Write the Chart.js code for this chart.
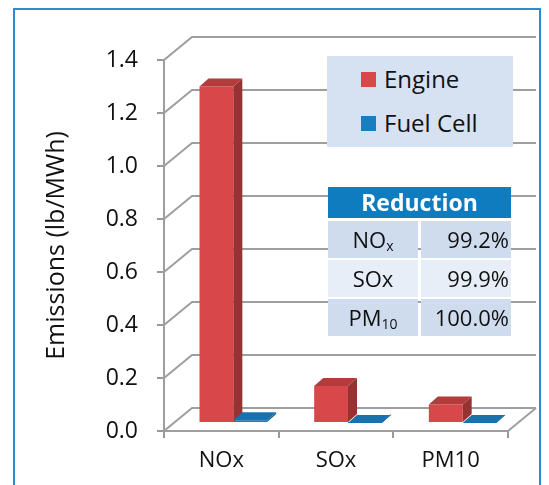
<!DOCTYPE html>
<html>
<head>
<meta charset="utf-8">
<script src="https://cdn.jsdelivr.net/npm/chart.js@4"></script>
<style>
  body { margin: 0; background: #fff; }
  .wrap { position: relative; width: 549px; height: 485px; font-family: "Open Sans", sans-serif; color: #111; }
  .legend { position: absolute; left: 327px; top: 56px; width: 186px; height: 91px; background: #d6e2f1; }
  .legend .item { position: absolute; left: 34px; font-size: 24px; line-height: 28px; }
  .legend .box { display: inline-block; width: 15px; height: 15px; margin-right: 8px; vertical-align: 1px; }
  .table { position: absolute; left: 328px; top: 187px; width: 183px; font-size: 22px; }
  .table .head { background: #0f7cc0; color: #fff; font-weight: bold; text-align: center; height: 31px; line-height: 31px; margin-bottom: 3px; font-size: 23px; }
  .table .row { display: flex; height: 37px; line-height: 37px; margin-bottom: 2px; }
  .table .c1 { width: 90px; text-align: center; margin-right: 3px; }
  .table .c2 { flex: 1; text-align: right; padding-right: 2px; }
  .table sub { font-size: 14px; vertical-align: -3px; line-height: 0; }
</style>
</head>
<body>
<div class="wrap">
  <canvas id="myChart" width="549" height="485"></canvas>
  <div class="legend" id="legend"></div>
  <div class="table" id="table"></div>
</div>
<script>
const categories = ['NOx', 'SOx', 'PM10'];
const engine = [1.27, 0.14, 0.07];
const fuelCell = [0.01, 0.0001, 0];
const seriesNames = ['Engine', 'Fuel Cell'];
const seriesColors = ['#d8474a', '#1a7dc0'];
const yMin = 0, yMax = 1.4, yStep = 0.2;

const reductionTitle = 'Reduction';
const reductionNames = ['NO<sub>x</sub>', 'SOx', 'PM<sub>10</sub>'];
const reductionValues = ['99.2%', '99.9%', '100.0%'];
const rowColors = ['#cfdcee', '#e8eef7', '#cfdcee'];

// 3d look: back wall offset, bar depth, bar shift into the box
const wallDx = 28, wallDy = -23;
const barDx = 9, barDy = -8;
const shiftX = 12, shiftY = -8;

const sideColors = ['#963232', '#145d90'];
const topColors = ['#b33b3c', '#1872b0'];

const frame3d = {
  id: 'frame3d',
  beforeDraw(chart) {
    const c = chart.ctx;
    c.save();
    c.strokeStyle = '#2a8cd2';
    c.lineWidth = 2;
    c.strokeRect(14, 9, 526, 520);
    c.restore();
  },
  beforeDatasetsDraw(chart) {
    const c = chart.ctx;
    const a = chart.chartArea;
    const ys = chart.scales.y;
    c.save();
    c.strokeStyle = '#9e9e9e';
    c.lineWidth = 2;
    ys.ticks.forEach(t => {
      const y = ys.getPixelForValue(t.value);
      c.beginPath();
      c.moveTo(a.left, y);
      c.lineTo(a.left + wallDx, y + wallDy);
      c.lineTo(a.right + wallDx, y + wallDy);
      c.stroke();
    });
    // floor
    const y0 = ys.getPixelForValue(0);
    c.beginPath();
    c.moveTo(a.right, y0);
    c.lineTo(a.right + wallDx, y0 + wallDy);
    c.stroke();
    c.restore();
    c.save();
    c.translate(shiftX, shiftY);
  },
  afterDatasetsDraw(chart) {
    const c = chart.ctx;
    chart.data.datasets.forEach((ds, i) => {
      chart.getDatasetMeta(i).data.forEach(bar => {
        const p = bar.getProps(['x', 'y', 'base', 'width'], true);
        const l = p.x - p.width / 2, r = p.x + p.width / 2;
        c.fillStyle = sideColors[i];
        c.beginPath();
        c.moveTo(r, p.y);
        c.lineTo(r + barDx, p.y + barDy);
        c.lineTo(r + barDx, p.base + barDy);
        c.lineTo(r, p.base);
        c.closePath();
        c.fill();
        c.fillStyle = topColors[i];
        c.beginPath();
        c.moveTo(l, p.y);
        c.lineTo(r, p.y);
        c.lineTo(r + barDx, p.y + barDy);
        c.lineTo(l + barDx, p.y + barDy);
        c.closePath();
        c.fill();
      });
    });
    c.restore();
  }
};

const chart = new Chart(document.getElementById('myChart'), {
  type: 'bar',
  data: {
    labels: categories,
    datasets: [
      { label: seriesNames[0], data: engine, backgroundColor: seriesColors[0], borderWidth: 0, clip: false },
      { label: seriesNames[1], data: fuelCell, backgroundColor: seriesColors[1], borderWidth: 0, clip: false }
    ]
  },
  options: {
    responsive: false,
    animation: false,
    categoryPercentage: 0.59,
    barPercentage: 1,
    layout: { padding: { left: 0, right: 41, top: 60, bottom: 0 } },
    plugins: { legend: { display: false }, tooltip: { enabled: false } },
    scales: {
      x: {
        afterFit: s => { s.height = 54; },
        grid: { drawOnChartArea: false, tickLength: 7, color: '#999', lineWidth: 2 },
        border: { color: '#9e9e9e', width: 2 },
        ticks: { padding: 10, color: '#111', font: { family: 'Open Sans', size: 22 } }
      },
      y: {
        min: yMin,
        max: yMax,
        afterFit: s => { s.width = 164; },
        grid: { drawOnChartArea: false, tickLength: 7, color: '#999', lineWidth: 2 },
        border: { color: '#9e9e9e', width: 2 },
        ticks: {
          stepSize: yStep,
          padding: 19,
          color: '#111',
          font: { family: 'Open Sans', size: 23 },
          callback: v => v.toFixed(1)
        },
        title: {
          display: true,
          text: 'Emissions (lb/MWh)',
          color: '#111',
          font: { family: 'Open Sans', size: 25 },
          padding: { top: 42 }
        }
      }
    }
  },
  plugins: [frame3d]
});

// legend from the datasets
const legend = document.getElementById('legend');
chart.data.datasets.forEach((ds, i) => {
  const d = document.createElement('div');
  d.className = 'item';
  d.style.top = (9 + i * 44) + 'px';
  d.innerHTML = '<span class="box" style="background:' + ds.backgroundColor + '"></span>' + ds.label;
  legend.appendChild(d);
});

// reduction table
let html = '<div class="head">' + reductionTitle + '</div>';
reductionNames.forEach((n, i) => {
  html += '<div class="row"><div class="c1" style="background:' + rowColors[i] + '">' + n +
    '</div><div class="c2" style="background:' + rowColors[i] + '">' + reductionValues[i] + '</div></div>';
});
document.getElementById('table').innerHTML = html;
</script>
</body>
</html>
